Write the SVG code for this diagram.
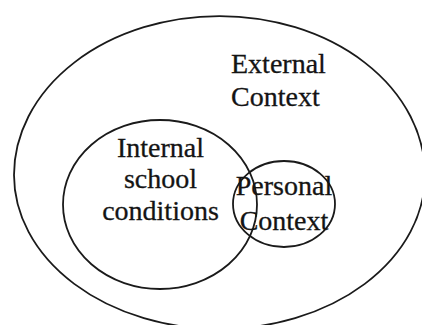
<svg xmlns="http://www.w3.org/2000/svg" width="422" height="325" viewBox="0 0 422 325">
  <style>
    .ring { fill: none; stroke: #1a1a1a; stroke-width: 1.8; }
    .label { font-family: "Liberation Serif", "Times New Roman", serif; font-size: 28px; fill: #141414; stroke: #141414; stroke-width: 0.3; }
    .mid { text-anchor: middle; }
  </style>
  <rect width="422" height="325" fill="#ffffff"/>

  <!-- outer region: slightly flatter on top than below -->
  <g id="external-context">
    <path class="ring" d="M 14 175 A 205.5 159 0 0 1 425 175 A 205.5 154 0 0 1 14 175 Z"/>
    <text class="label" x="231" y="73">External</text>
    <text class="label" x="231" y="106">Context</text>
  </g>

  <g id="internal-school-conditions">
    <ellipse class="ring" cx="160" cy="204.5" rx="97" ry="84.5"/>
    <text class="label mid" x="160.5" y="157">Internal</text>
    <text class="label mid" x="160.5" y="188">school</text>
    <text class="label mid" x="160.5" y="220">conditions</text>
  </g>

  <g id="personal-context">
    <ellipse class="ring" cx="284" cy="204" rx="51" ry="43"/>
    <text class="label mid" x="284" y="195">Personal</text>
    <text class="label mid" x="284" y="230">Context</text>
  </g>
</svg>
